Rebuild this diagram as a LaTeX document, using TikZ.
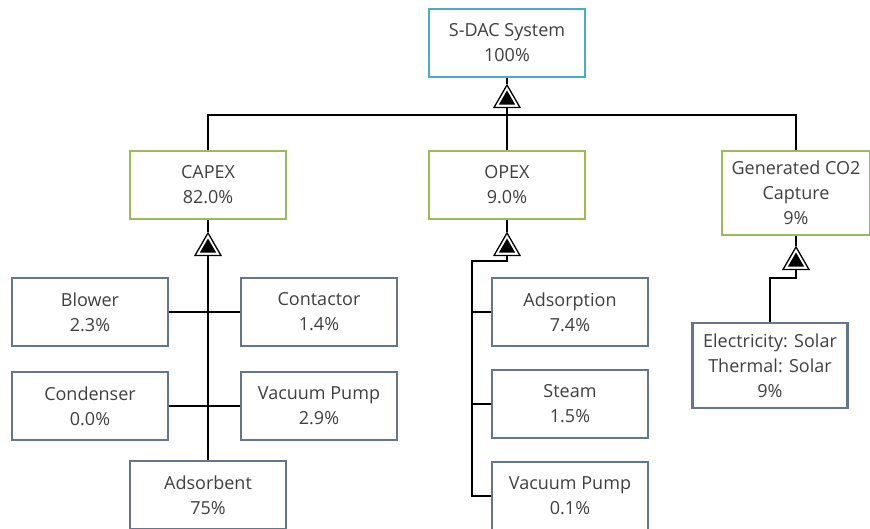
\documentclass[tikz,border=0pt]{standalone}
\usepackage{fontspec}
\setmainfont{Open Sans}
\usepackage{tikz}
\usetikzlibrary{shapes.geometric}
\usetikzlibrary{positioning}

\definecolor{sdacblue}{RGB}{75,172,198}
\definecolor{costgreen}{RGB}{155,187,89}
\definecolor{partgray}{RGB}{100,118,142}
\definecolor{txtgray}{RGB}{64,64,64}

\tikzset{
	box/.style={draw, line width=2.7pt, fill=white, align=center, text=txtgray,
		font=\fontsize{18}{25}\selectfont, minimum width=156pt, minimum height=68pt, inner sep=0pt},
	sysbox/.style={box, draw=sdacblue},
	costbox/.style={box, draw=costgreen},
	partbox/.style={box, draw=partgray},
	aggmark/.style={regular polygon, regular polygon sides=3, draw, line width=1.3pt, fill=white,
		minimum size=30pt, inner sep=0pt, label={[agginner]center:{}}},
	agginner/.style={regular polygon, regular polygon sides=3, fill=black, minimum size=19pt, inner sep=0pt},
	wire/.style={line width=1.5pt}
}

\begin{document}
\begin{tikzpicture}[x=1pt,y=-1pt]
			\useasboundingbox (0,0) rectangle (870,529);

			% top level
			\node[sysbox] (sdac) at (507,43) {S-DAC System\\100\%};
			\node[aggmark] (aggsdac) at (507,100) {};
			\coordinate (bus) at (507,115);

			% cost groups
			\node[costbox] (capex) at (208,185) {CAPEX\\82.0\%};
			\node[costbox] (opex) at (507,185) {OPEX\\9.0\%};
			\node[costbox, minimum width=148pt, minimum height=84pt] (gen) at (796,193) {Generated CO2\\Capture\\9\%};
			\node[aggmark] (aggcapex) at (208,248) {};
			\node[aggmark] (aggopex) at (507,248) {};
			\node[aggmark] (agggen) at (796,262) {};

			% CAPEX parts
			\node[partbox] (blower) at (90,312) {Blower\\2.3\%};
			\node[partbox] (contactor) at (319,312) {Contactor\\1.4\%};
			\node[partbox] (condenser) at (90,406) {Condenser\\0.0\%};
			\node[partbox] (vpumpa) at (319,406) {Vacuum Pump\\2.9\%};
			\node[partbox] (adsorbent) at (208,495) {Adsorbent\\75\%};

			% OPEX parts
			\coordinate (opexbend) at (472,261);
			\node[partbox] (adsorption) at (570,312) {Adsorption\\7.4\%};
			\node[partbox] (steam) at (570,404) {Steam\\1.5\%};
			\node[partbox] (vpumpb) at (570,496) {Vacuum Pump\\0.1\%};

			% capture source
			\coordinate (genbend) at (770,278);
			\node[partbox, minimum width=155pt, minimum height=85pt] (elec) at (770,365.5) {Electricity: Solar\\Thermal: Solar\\9\%};

			\draw[wire] (sdac) -- (aggsdac);
			\draw[wire] (aggsdac) -- (bus);
			\draw[wire] (bus) -| (capex);
			\draw[wire] (bus) -- (opex);
			\draw[wire] (bus) -| (gen);

			\draw[wire] (capex) -- (aggcapex);
			\draw[wire] (aggcapex) -- (adsorbent);
			\draw[wire] (blower) -- (contactor);
			\draw[wire] (condenser) -- (vpumpa);

			\draw[wire] (opex) -- (aggopex);
			\draw[wire] (aggopex) |- (opexbend) |- (vpumpb);
			\draw[wire] (opexbend |- adsorption) -- (adsorption);
			\draw[wire] (opexbend |- steam) -- (steam);

			\draw[wire] (gen) -- (agggen);
			\draw[wire] (agggen) |- (genbend) -- (elec);
		\end{tikzpicture}
\end{document}
